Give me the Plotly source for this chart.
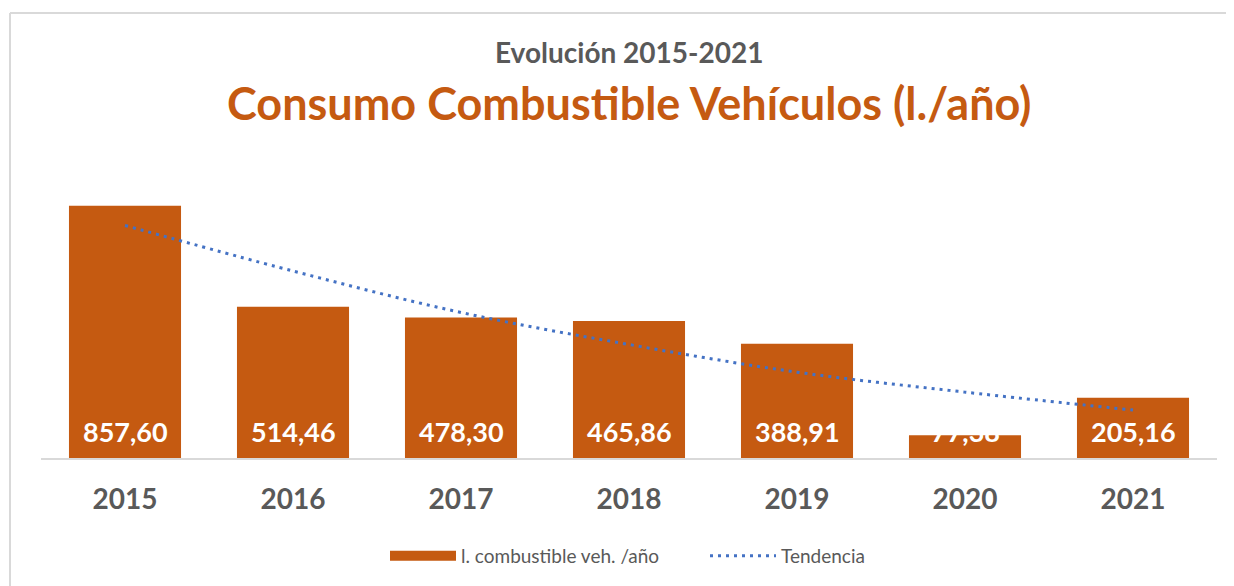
import plotly.graph_objects as go

years = ["2015", "2016", "2017", "2018", "2019", "2020", "2021"]
consumo = [857.60, 514.46, 478.30, 465.86, 388.91, 77.38, 205.16]
tendencia = [791, 636, 495, 386, 292, 224, 163]
labels = [f"{v:,.2f}".replace(",", "X").replace(".", ",").replace("X", ".") for v in consumo]

OFF = 8  # page body margin
W, H = 1234 - OFF, 586 - OFF
L, T = 41 - OFF, 164 - OFF
R = W - (1217 - OFF)
B = H - (459 - OFF)
pw, ph = W - L - R, H - T - B

def px_x(x):
    return (x - OFF - L) / pw

def px_y(y):
    return (H - B - (y - OFF)) / ph

FONT = "Lato"
ORANGE = "#C55A11"
GRAY = "#595959"

fig = go.Figure()
fig.add_trace(go.Bar(
    x=years, y=consumo, name="l. combustible veh. /año",
    marker=dict(color=ORANGE, line=dict(width=0)),
    showlegend=False, hoverinfo="skip",
))
# legend entry for bars (wide rectangle like the original)
fig.add_trace(go.Scatter(
    x=[years[0]], y=[None], name="l. combustible veh. /año", mode="lines",
    line=dict(color=ORANGE, width=14), hoverinfo="skip",
))
fig.add_trace(go.Scatter(
    x=years, y=tendencia, name="Tendencia", mode="lines",
    line=dict(color="#4472C4", width=3, dash="3px,5px", shape="spline"),
    hoverinfo="skip",
))

annotations = [
    dict(text="Evolución 2015-2021", x=0.5, y=px_y(52), xref="paper", yref="paper",
         showarrow=False, yanchor="middle",
         font=dict(family=FONT, size=28, color=GRAY, weight="bold")),
    dict(text="Consumo Combustible Vehículos (l./año)", x=0.5, y=px_y(103), xref="paper", yref="paper",
         showarrow=False, yanchor="middle",
         font=dict(family=FONT, size=45, color=ORANGE, weight="bold")),
]
for i, lab in enumerate(labels):
    annotations.append(dict(
        text=lab, x=i, y=0, xref="x", yref="y", showarrow=False,
        yanchor="middle", yshift=27,
        font=dict(family=FONT, size=27, color="white", weight="bold"),
    ))

fig.update_layout(
    width=W, height=H,
    margin=dict(l=L, r=R, t=T, b=B),
    paper_bgcolor="white", plot_bgcolor="white",
    bargap=0.333,
    showlegend=True,
    legend=dict(orientation="h", x=px_x(385), xanchor="left", y=px_y(556), yanchor="middle",
                font=dict(family=FONT, size=19, color=GRAY), itemwidth=66,
                entrywidth=239, entrywidthmode="pixels",
                traceorder="normal"),
    xaxis=dict(type="category", categoryorder="array", categoryarray=years,
               range=[-0.5, len(years) - 0.5],
               showline=True, linecolor="#D9D9D9", linewidth=2, ticks="",
               tickfont=dict(family=FONT, size=28, color=GRAY, weight="bold"),
               ticklabelstandoff=15, showgrid=False),
    yaxis=dict(range=[0, 1000], visible=False, showgrid=False),
    annotations=annotations,
    shapes=[
        dict(type="line", xref="paper", yref="paper", x0=px_x(10), x1=px_x(1240),
             y0=px_y(12.5), y1=px_y(12.5), line=dict(color="#D9D9D9", width=2)),
        dict(type="line", xref="paper", yref="paper", x0=px_x(10), x1=px_x(10),
             y0=px_y(12.5), y1=px_y(590), line=dict(color="#D9D9D9", width=2)),
    ],
)

fig.write_html("out.html")
